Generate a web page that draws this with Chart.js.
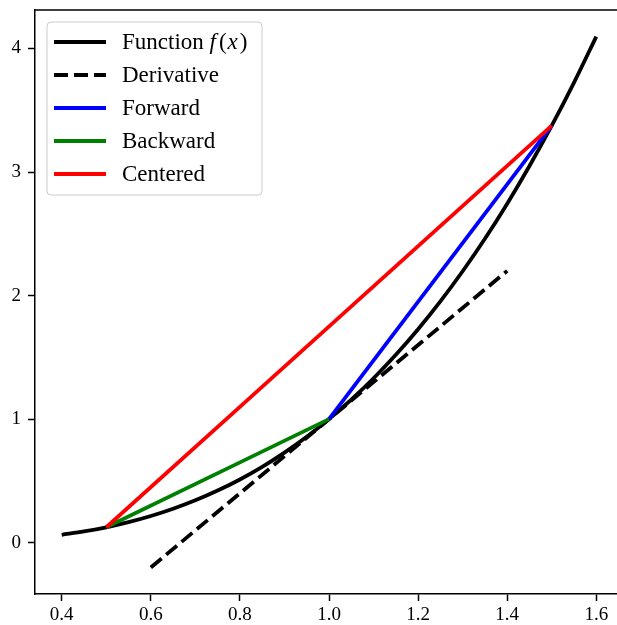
<!DOCTYPE html>
<html>
<head>
<meta charset="utf-8">
<script src="https://cdn.jsdelivr.net/npm/chart.js@4.4.0/dist/chart.umd.min.js"></script>
<style>
  html, body { margin: 0; padding: 0; background: white; overflow: hidden; }
  #wrap { width: 626px; height: 625px; }
</style>
</head>
<body>
<div id="wrap"><canvas id="chart"></canvas></div>
<script>
const fx = [0.40, 0.45, 0.50, 0.55, 0.60, 0.65, 0.70, 0.75, 0.80, 0.85, 0.90, 0.95, 1.00,
            1.05, 1.10, 1.15, 1.20, 1.25, 1.30, 1.35, 1.40, 1.45, 1.50, 1.55, 1.60];
const fy = [0.064, 0.091, 0.125, 0.166, 0.216, 0.275, 0.343, 0.422, 0.512, 0.614, 0.729, 0.857, 1.000,
            1.158, 1.331, 1.521, 1.728, 1.953, 2.197, 2.460, 2.744, 3.049, 3.375, 3.724, 4.096];

const derivX = [0.6, 1.4];
const derivY = [-0.2, 2.2];
const forwardX = [1.0, 1.5];
const forwardY = [1.0, 3.375];
const backwardX = [0.5, 1.0];
const backwardY = [0.125, 1.0];
const centeredX = [0.5, 1.5];
const centeredY = [0.125, 3.375];

const xTicks = [0.4, 0.6, 0.8, 1.0, 1.2, 1.4, 1.6];
const yTicks = [0, 1, 2, 3, 4];

const SERIF = "'Liberation Serif', 'Times New Roman', serif";
const LW = 3.8;

function pts(xs, ys) {
  return xs.map((x, i) => ({ x: x, y: ys[i] }));
}

function lineSet(label, xs, ys, color, order, dash) {
  return {
    label: label,
    data: pts(xs, ys),
    borderColor: color,
    backgroundColor: color,
    borderWidth: LW,
    borderDash: dash || [],
    borderCapStyle: 'butt',
    pointRadius: 0,
    fill: false,
    cubicInterpolationMode: 'monotone',
    order: order,
  };
}

// top and right spines
const frame = {
  id: 'frame',
  afterDraw(chart) {
    const { ctx, chartArea } = chart;
    ctx.save();
    ctx.strokeStyle = 'black';
    ctx.lineWidth = 1.5;
    ctx.beginPath();
    ctx.moveTo(chartArea.left, chartArea.top);
    ctx.lineTo(chartArea.right, chartArea.top);
    ctx.lineTo(chartArea.right, chartArea.bottom);
    ctx.stroke();
    ctx.restore();
  }
};

// matplotlib-like legend in the upper left
const mplLegend = {
  id: 'mplLegend',
  afterDraw(chart) {
    const { ctx, chartArea } = chart;
    const x0 = chartArea.left + 12, y0 = chartArea.top + 12;
    const w = 215, h = 173;
    const font = "23px " + SERIF;
    ctx.save();
    ctx.beginPath();
    ctx.roundRect(x0, y0, w, h, 4);
    ctx.fillStyle = 'rgba(255,255,255,0.8)';
    ctx.fill();
    ctx.strokeStyle = '#cccccc';
    ctx.lineWidth = 1;
    ctx.stroke();

    ctx.font = font;
    ctx.textBaseline = 'middle';
    chart.data.datasets.forEach((ds, i) => {
      const cy = y0 + 20 + i * 33;
      ctx.strokeStyle = ds.borderColor;
      ctx.lineWidth = LW;
      ctx.setLineDash(ds.borderDash);
      ctx.beginPath();
      ctx.moveTo(x0 + 7, cy);
      ctx.lineTo(x0 + 59, cy);
      ctx.stroke();
      ctx.setLineDash([]);
      ctx.fillStyle = 'black';
      let tx = x0 + 75;
      const ty = cy + 1;
      if (ds.label === 'Function f(x)') {
        const parts = [['Function ', false, 0], ['f', true, 3], ['(', false, 1], ['x', true, 2], [')', false, 0]];
        parts.forEach(([t, it, gap]) => {
          ctx.font = (it ? 'italic ' : '') + font;
          ctx.fillText(t, tx, ty);
          tx += ctx.measureText(t).width + gap;
        });
        ctx.font = font;
      } else {
        ctx.fillText(ds.label, tx, ty);
      }
    });
    ctx.restore();
  }
};

const axisCommon = {
  type: 'linear',
  border: { color: 'black', width: 1.5 },
  grid: { drawOnChartArea: false, drawTicks: true, tickLength: 7, tickWidth: 1.5, tickColor: 'black' },
  ticks: { color: 'black', font: { family: SERIF, size: 19 }, padding: 4 },
};

new Chart(document.getElementById('chart'), {
  type: 'line',
  data: {
    datasets: [
      lineSet('Function f(x)', fx, fy, 'black', 4),
      lineSet('Derivative', derivX, derivY, 'black', 3, [14, 6]),
      lineSet('Forward', forwardX, forwardY, '#0000ff', 2),
      lineSet('Backward', backwardX, backwardY, '#008000', 1),
      lineSet('Centered', centeredX, centeredY, '#ff0000', 0),
    ]
  },
  options: {
    responsive: true,
    maintainAspectRatio: false,
    animation: false,
    layout: { padding: { top: 10, right: 3, left: 0, bottom: 0 } },
    plugins: { legend: { display: false }, tooltip: { enabled: false } },
    scales: {
      x: {
        ...axisCommon,
        min: 0.34, max: 1.66,
        afterBuildTicks: (s) => { s.ticks = xTicks.map(v => ({ value: v })); },
        afterFit: (s) => { s.height = 31; s.paddingLeft = 0; s.paddingRight = 0; },
        ticks: { ...axisCommon.ticks, padding: 3, callback: (v) => v.toFixed(1) },
      },
      y: {
        ...axisCommon,
        min: -0.415, max: 4.311,
        afterBuildTicks: (s) => { s.ticks = yTicks.map(v => ({ value: v })); },
        afterFit: (s) => { s.width = 35; s.paddingTop = 0; s.paddingBottom = 0; },
        ticks: { ...axisCommon.ticks, padding: 7, callback: (v) => String(v) },
      }
    }
  },
  plugins: [frame, mplLegend]
});
</script>
</body>
</html>
